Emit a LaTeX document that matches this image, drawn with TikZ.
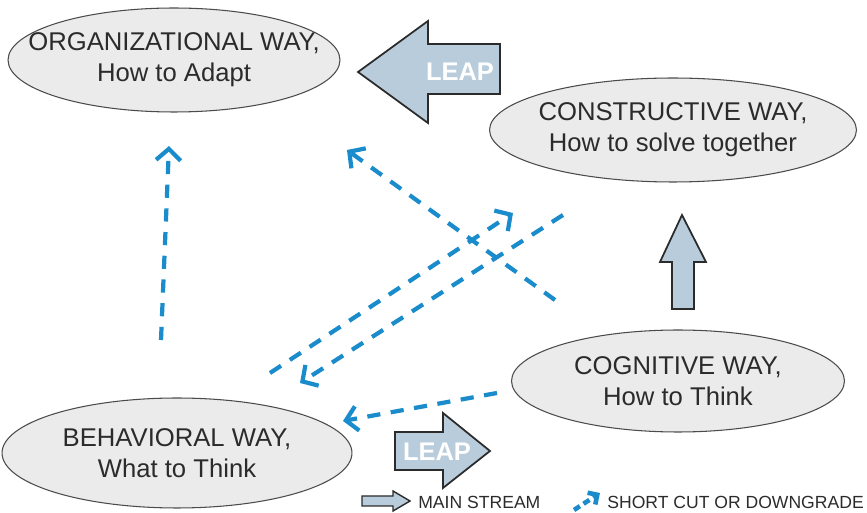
\documentclass[tikz,border=0pt]{standalone}
\usepackage{fontspec}
\setmainfont{Liberation Sans}
\usetikzlibrary{arrows.meta,shapes.geometric}
\definecolor{sky}{HTML}{1A8BCB}
\definecolor{steel}{HTML}{B8CCDC}
\definecolor{fog}{HTML}{EBEBEB}
\definecolor{ink}{HTML}{2B2B2B}

\begin{document}
\begin{tikzpicture}[x=0.02cm,y=-0.02cm,
    way/.style={ellipse,draw=ink!85,fill=fog,line width=0.6pt,inner sep=0pt},
    waytext/.style={align=center,text=ink,inner sep=0pt,font=\fontsize{14.6}{17.5}\selectfont},
    leap/.style={draw=ink,fill=steel,line width=1pt,line join=miter},
    leaptext/.style={text=white,inner sep=0pt,font=\fontsize{14.5}{14}\selectfont\bfseries},
    cut/.style={draw=sky,line width=2.4pt,dash pattern=on 7.5pt off 6pt,
      -{Straight Barb[length=6.5pt,width=14pt]}},
    legend/.style={text=ink,anchor=west,inner sep=0pt,font=\fontsize{10}{10}\selectfont}]
  \useasboundingbox (0,0) rectangle (867,513);

  % the four ways
  \node[way,minimum width=6.64cm,minimum height=2.08cm] (org) at (174,60) {};
  \node[waytext] (orgt) at (org) {ORGANIZATIONAL WAY,\\How to Adapt};
  \node[way,minimum width=7.34cm,minimum height=2.08cm] (con) at (673,130) {};
  \node[waytext] (cont) at (con) {CONSTRUCTIVE WAY,\\How to solve together};
  \node[way,minimum width=6.66cm,minimum height=2.04cm] (cog) at (678,381) {};
  \node[waytext] (cogt) at (cog) {COGNITIVE WAY,\\How to Think};
  \node[way,minimum width=7.0cm,minimum height=2.2cm] (beh) at (177,453) {};
  \node[waytext] (beht) at (beh) {BEHAVIORAL WAY,\\What to Think};

  % main stream arrows
  \draw[leap] (500,44) -- (428,44) -- (428,21) -- (358,72) -- (428,123) -- (428,94) -- (500,94) -- cycle;
  \node[leaptext] (leapa) at (460,72) {LEAP};
  \draw[leap] (395,432) -- (443,432) -- (443,413) -- (490,451) -- (443,488) -- (443,470) -- (395,470) -- cycle;
  \node[leaptext] (leapb) at (437,452) {LEAP};
  \draw[leap] (672,309) -- (672,262) -- (660,262) -- (682,215) -- (706,262) -- (694,262) -- (694,309) -- cycle;

  % short cuts and downgrades
  \coordinate (v0) at (161,340);  \coordinate (v1) at (169,146);
  \coordinate (n0) at (555,300);  \coordinate (n1) at (347,150);
  \coordinate (e0) at (270,373);  \coordinate (e1) at (513,213);
  \coordinate (s0) at (563,215);  \coordinate (s1) at (300,383);
  \coordinate (w0) at (497,393);  \coordinate (w1) at (343,421);
  \foreach \a/\b in {v0/v1,n0/n1,e0/e1,s0/s1,w0/w1}
    \draw[cut] (\a) -- (\b);

  % legend
  \draw[leap,line width=0.8pt] (362,496) -- (393,496) -- (393,491) -- (410,501) -- (393,511) -- (393,506) -- (362,506) -- cycle;
  \node[legend] (lmain) at (418,502) {MAIN STREAM};
  \coordinate (k0) at (574,510);  \coordinate (k1) at (600,493);
  \draw[cut,line width=2.6pt,dash pattern=on 4pt off 2.5pt,-{Straight Barb[length=4pt,width=8pt]}] (k0) -- (k1);
  \node[legend] (lcut) at (607,502) {SHORT CUT OR DOWNGRADE};
\end{tikzpicture}
\end{document}
